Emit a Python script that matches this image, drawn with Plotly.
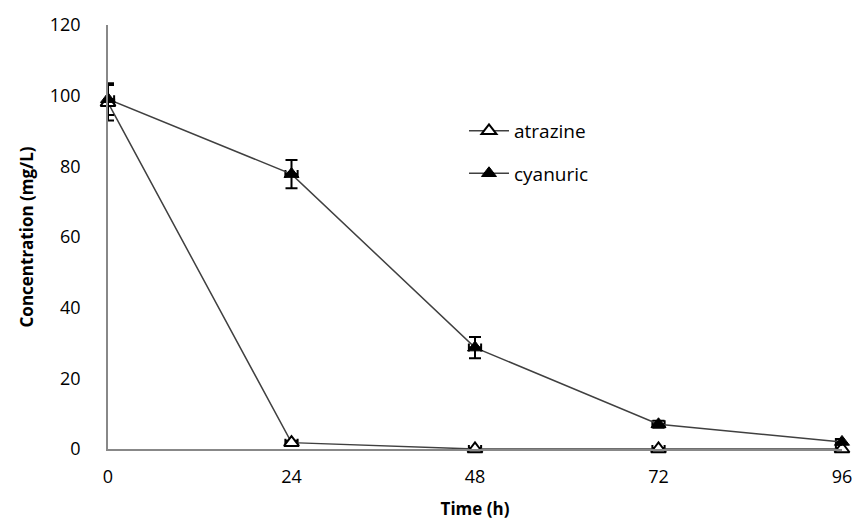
import plotly.graph_objects as go

time_h = [0, 24, 48, 72, 96]
atrazine = [98, 1.8, 0, 0, 0]
atrazine_err = [5, 0.5, 0.3, 0.3, 0.3]
cyanuric = [99, 77.8, 28.7, 7, 2]
cyanuric_err = [4.5, 4, 3, 1, 0.8]
x_err = [0.8, 0.8, 0.8, 0.8, 0.8]
x_ticks = [0, 24, 48, 72, 96]
y_ticks = [0, 20, 40, 60, 80, 100, 120]

line_col = "#404040"
font_fam = "Open Sans, Liberation Sans, sans-serif"

fig = go.Figure()
fig.add_trace(go.Scatter(
    x=time_h, y=atrazine, name="atrazine", mode="lines+markers",
    line=dict(color=line_col, width=1.5),
    marker=dict(symbol="triangle-up", size=13, color="white", line=dict(color="black", width=2)),
    error_y=dict(type="data", array=atrazine_err, color="black", thickness=2, width=6),
    error_x=dict(type="data", array=x_err, color="black", thickness=2, width=4),
    cliponaxis=False, legend="legend",
))
fig.add_trace(go.Scatter(
    x=time_h, y=cyanuric, name="cyanuric", mode="lines+markers",
    line=dict(color=line_col, width=1.5),
    marker=dict(symbol="triangle-up", size=13, color="black", line=dict(color="black", width=1)),
    error_y=dict(type="data", array=cyanuric_err, color="black", thickness=2, width=6),
    error_x=dict(type="data", array=x_err, color="black", thickness=2, width=4),
    cliponaxis=False, legend="legend2",
))

fig.update_layout(
    width=864, height=532,
    margin=dict(l=108, r=14, t=22, b=83),
    paper_bgcolor="white", plot_bgcolor="white",
    font=dict(family=font_fam, size=18, color="black"),
    showlegend=True,
    legend=dict(x=0.485, y=0.75, xanchor="left", yanchor="middle",
                bgcolor="rgba(0,0,0,0)", font=dict(size=19), itemwidth=40),
    legend2=dict(x=0.485, y=0.65, xanchor="left", yanchor="middle",
                 bgcolor="rgba(0,0,0,0)", font=dict(size=19), itemwidth=40),
    xaxis=dict(range=[0, 96], tickvals=x_ticks, ticktext=[str(v) for v in x_ticks],
               showgrid=False, zeroline=False, showline=True, linecolor="#888888", linewidth=1.5,
               ticks="", ticklabelstandoff=11, tickfont=dict(size=18),
               title=dict(text="<b>Time (h)</b>", font=dict(size=17), standoff=16)),
    yaxis=dict(range=[0, 120], tickvals=y_ticks, ticktext=[str(v) for v in y_ticks],
               showgrid=False, zeroline=False, showline=True, linecolor="#888888", linewidth=1.5,
               ticks="", ticklabelstandoff=22, tickfont=dict(size=18),
               title=dict(text="<b>Concentration (mg/L)</b>", font=dict(size=17), standoff=12)),
)

fig.write_html("out.html")
